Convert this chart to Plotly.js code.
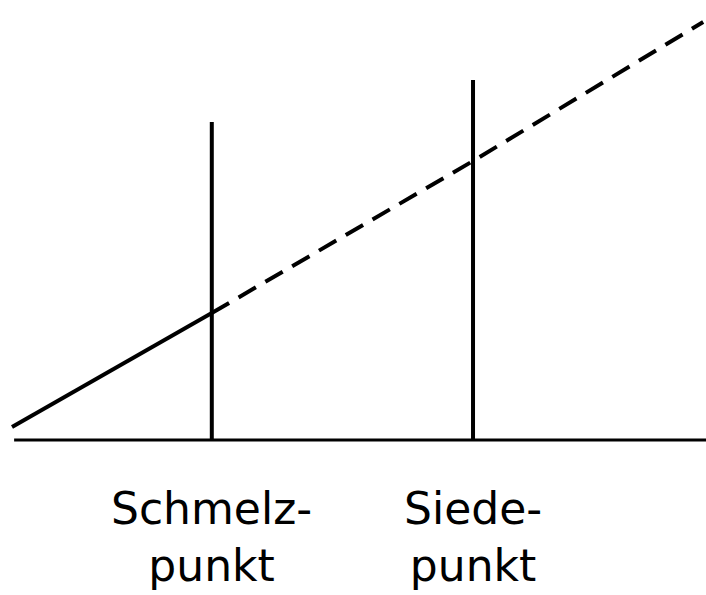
<!DOCTYPE html>
<html>
<head>
<meta charset="utf-8">
<script src="https://cdn.plot.ly/plotly-3.0.1.min.js"></script>
<style>html,body{margin:0;padding:0;background:#fff;}#chart{width:706px;height:595px;}</style>
</head>
<body>
<div id="chart"></div>
<script>
// Temperature axis (arbitrary units)
const baselineX = [2, 100];
const baselineY = [0, 0];
const meltingPoint = 30;
const boilingPoint = 67;
const meltingLineY = [0, 63.6];
const boilingLineY = [0, 72];
// Solid segment (solid state) up to the melting point
const solidX = [1.7, 30];
const solidY = [2.6, 25.4];
// Dashed continuation (liquid, then gas)
const dashedX = [30, 67, 99.6];
const dashedY = [25.4, 55.8, 83.6];
const labelLine1 = ["Schmelz-", "Siede-"];
const labelLine2 = ["punkt", "punkt"];
const labelX = [meltingPoint, boilingPoint];

const black = "#000000";
const traces = [
  {x: baselineX, y: baselineY, mode: "lines", line: {color: black, width: 3}, hoverinfo: "skip"},
  {x: [meltingPoint, meltingPoint], y: meltingLineY, mode: "lines", line: {color: black, width: 4}, hoverinfo: "skip"},
  {x: [boilingPoint, boilingPoint], y: boilingLineY, mode: "lines", line: {color: black, width: 4}, hoverinfo: "skip"},
  {x: solidX, y: solidY, mode: "lines", line: {color: black, width: 4}, hoverinfo: "skip"},
  {x: dashedX, y: dashedY, mode: "lines", line: {color: black, width: 4, dash: "20px,11px"}, hoverinfo: "skip"}
];

const font = {family: "DejaVu Sans", size: 44, color: black};
const annotations = [];
for (let i = 0; i < labelX.length; i++) {
  annotations.push({x: labelX[i], xref: "x", y: 0, yref: "paper", yanchor: "bottom", xanchor: "center",
    yshift: -128, text: labelLine1[i] + "<br>" + labelLine2[i], showarrow: false, font: font, align: "center"});
}

const layout = {
  width: 706, height: 595,
  margin: {l: 0, r: 0, t: 0, b: 130},
  paper_bgcolor: "#ffffff", plot_bgcolor: "#ffffff",
  showlegend: false,
  xaxis: {range: [0, 100], visible: false, fixedrange: true},
  yaxis: {range: [-5, 88], visible: false, fixedrange: true},
  annotations: annotations
};
Plotly.newPlot("chart", traces, layout, {displayModeBar: false, staticPlot: true});
</script>
</body>
</html>
